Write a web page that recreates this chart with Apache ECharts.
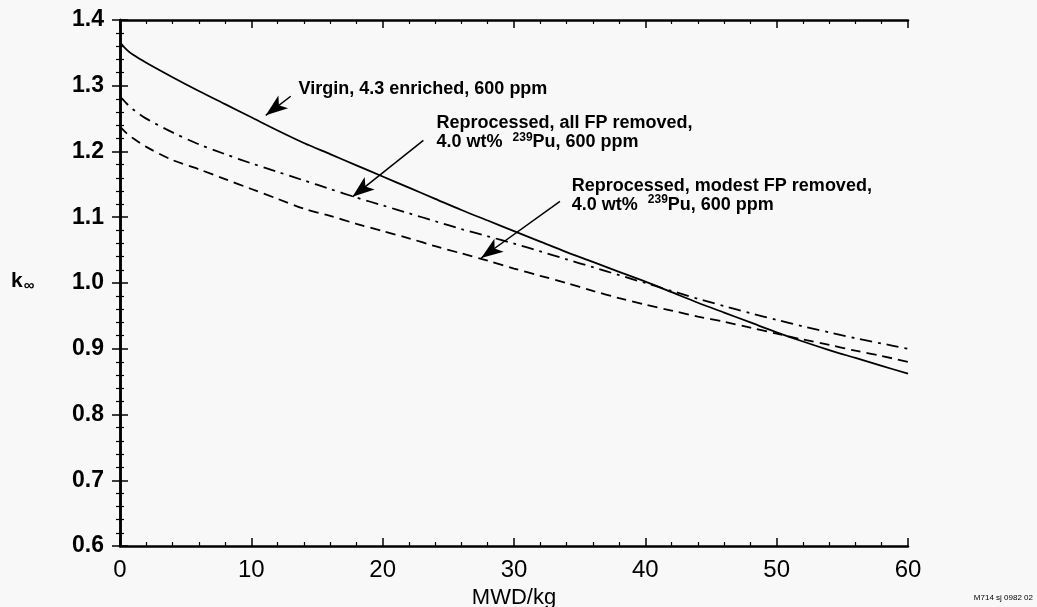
<!DOCTYPE html>
<html>
<head>
<meta charset="utf-8">
<script src="https://cdn.jsdelivr.net/npm/echarts@6/dist/echarts.min.js"></script>
<style>
  html, body { margin: 0; padding: 0; background: #f8f8f8; }
  #chart { width: 1037px; height: 607px; }
</style>
</head>
<body>
<div id="chart"></div>
<script>
// burnup (MWD/kg) and k-infinity
const burnup = [0, 0.5, 1, 2, 4, 6, 8, 10, 12, 14, 16, 18, 20, 22, 24, 26, 28, 30,
    32, 34, 36, 38, 40, 42, 44, 46, 48, 50, 52, 54, 56, 58, 60];
const virgin = [1.366, 1.355, 1.347, 1.335, 1.313, 1.292, 1.272, 1.252, 1.232, 1.213, 1.196,
    1.179, 1.162, 1.145, 1.128, 1.111, 1.095, 1.079, 1.063, 1.047, 1.032, 1.017, 1.002,
    0.986, 0.970, 0.955, 0.940, 0.925, 0.911, 0.898, 0.886, 0.874, 0.862];
const allFpRemoved = [1.284, 1.273, 1.264, 1.250, 1.229, 1.211, 1.196, 1.182, 1.169, 1.156, 1.143,
    1.130, 1.118, 1.106, 1.094, 1.082, 1.071, 1.060, 1.048, 1.036, 1.024, 1.012, 1.000,
    0.988, 0.976, 0.965, 0.954, 0.944, 0.934, 0.925, 0.916, 0.908, 0.900];
const modestFpRemoved = [1.238, 1.228, 1.220, 1.207, 1.187, 1.173, 1.158, 1.143, 1.128, 1.113, 1.102,
    1.090, 1.079, 1.068, 1.056, 1.045, 1.034, 1.022, 1.011, 1.000, 0.988, 0.977, 0.967,
    0.958, 0.949, 0.941, 0.932, 0.923, 0.914, 0.906, 0.897, 0.889, 0.880];

// annotation arrows: [tail, tip] in data units
const arrows = [
    [[13.0, 1.284], [11.1, 1.255]],
    [[23.1, 1.217], [17.7, 1.131]],
    [[33.5, 1.124], [27.5, 1.038]]
];

const FONT = '"Liberation Sans", Arial, Helvetica, sans-serif';

const chart = echarts.init(document.getElementById('chart'));

function pairs(ys) {
    return burnup.map((x, i) => [x, ys[i]]);
}

const tickCommon = {
    axisLine: { show: true, lineStyle: { color: '#000', width: 2.5 } },
    axisTick: { show: true, inside: true, length: 8, lineStyle: { color: '#000', width: 1.5 } },
    minorTick: { show: true, splitNumber: 5, length: 4, lineStyle: { color: '#000', width: 1.2 } },
    splitLine: { show: false }
};

const option = {
    backgroundColor: '#f8f8f8',
    animation: false,
    grid: {
        left: 120,
        right: 129,
        top: 20,
        bottom: 61,
        outerBoundsMode: 'none'
    },
    xAxis: [
        Object.assign({
            type: 'value',
            min: 0,
            max: 60,
            interval: 10,
            name: 'MWD/kg',
            nameLocation: 'middle',
            nameGap: 34,
            nameTextStyle: { color: '#000', fontSize: 22, fontFamily: FONT },
            axisLabel: { color: '#000', fontSize: 24, fontFamily: FONT, margin: 12 }
        }, tickCommon),
        Object.assign({
            type: 'value',
            position: 'top',
            min: 0,
            max: 60,
            interval: 10,
            axisLabel: { show: false }
        }, tickCommon)
    ],
    yAxis: [
        Object.assign({
            type: 'value',
            min: 0.6,
            max: 1.4,
            interval: 0.1,
            axisLabel: {
                color: '#000',
                fontSize: 23,
                fontWeight: 'bold',
                fontFamily: FONT,
                margin: 16,
                formatter: v => v.toFixed(1)
            }
        }, tickCommon),
        Object.assign({
            type: 'value',
            position: 'right',
            min: 0.6,
            max: 1.4,
            interval: 0.1,
            axisLabel: { show: false }
        }, tickCommon)
    ],
    series: [
        {
            name: 'Virgin, 4.3 enriched, 600 ppm',
            type: 'line',
            data: pairs(virgin),
            smooth: 0.3,
            showSymbol: false,
            lineStyle: { color: '#000', width: 1.8 },
            markLine: {
                silent: true,
                animation: false,
                label: { show: false },
                lineStyle: { color: '#000', width: 1.5, type: 'solid' },
                symbol: ['none', 'arrow'],
                symbolSize: [12, 22],
                data: arrows.map(a => [
                    { coord: a[0] },
                    { coord: a[1] }
                ])
            }
        },
        {
            name: 'Reprocessed, all FP removed',
            type: 'line',
            data: pairs(allFpRemoved),
            smooth: 0.3,
            showSymbol: false,
            lineStyle: { color: '#000', width: 1.8, type: [12, 6, 3, 6] }
        },
        {
            name: 'Reprocessed, modest FP removed',
            type: 'line',
            data: pairs(modestFpRemoved),
            smooth: 0.3,
            showSymbol: false,
            lineStyle: { color: '#000', width: 1.8, type: [10, 6] }
        }
    ]
};

chart.setOption(option);

// 注释文字, 位置由数据坐标换算
const textStyleBase = {
    fill: '#000',
    fontSize: 18,
    fontWeight: 'bold',
    fontFamily: FONT,
    verticalAlign: 'middle',
    rich: {
        b: { fontSize: 18, fontWeight: 'bold', fontFamily: FONT, lineHeight: 20 },
        sup: { fontSize: 12, fontWeight: 'bold', fontFamily: FONT, lineHeight: 20, padding: [0, 0, 10, 0] }
    }
};

function labelAt(coord, text) {
    const p = chart.convertToPixel({ gridIndex: 0 }, coord);
    return {
        type: 'text',
        x: p[0],
        y: p[1],
        style: Object.assign({ text: text }, textStyleBase)
    };
}

chart.setOption({
    graphic: [
        labelAt([13.6, 1.295], '{b|Virgin, 4.3 enriched, 600 ppm}'),
        labelAt([24.1, 1.244], '{b|Reprocessed, all FP removed,}'),
        labelAt([24.1, 1.214], '{b|4.0 wt%  }{sup|239}{b|Pu, 600 ppm}'),
        labelAt([34.4, 1.148], '{b|Reprocessed, modest FP removed,}'),
        labelAt([34.4, 1.119], '{b|4.0 wt%  }{sup|239}{b|Pu, 600 ppm}'),
        {
            type: 'text',
            left: 11,
            top: 269,
            style: {
                text: '{k|k}{inf|∞}',
                fill: '#000',
                rich: {
                    k: { fontSize: 21, fontWeight: 'bold', fontFamily: FONT, lineHeight: 26 },
                    inf: { fontSize: 15, fontWeight: 'bold', fontFamily: FONT, lineHeight: 26, padding: [9, 0, 0, 1] }
                }
            }
        },
        {
            type: 'text',
            right: 4,
            top: 594,
            style: {
                text: 'M714 sj 0982 02',
                fill: '#000',
                fontSize: 8,
                fontFamily: FONT
            }
        }
    ]
});

window.addEventListener('resize', () => {
    chart.resize();
});
</script>
</body>
</html>
